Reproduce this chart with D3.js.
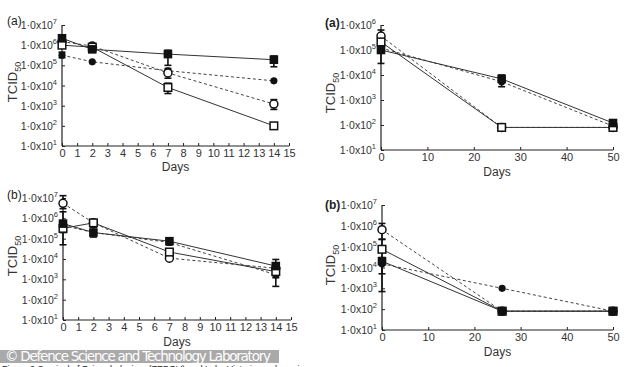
<!DOCTYPE html>
<html><head><meta charset="utf-8">
<script src="https://cdn.jsdelivr.net/npm/d3@7"></script>
<style>
body{margin:0;background:#fff;}
svg{display:block;font-family:"Liberation Sans",Arial,sans-serif;}
</style></head>
<body><svg id="c" width="634" height="367"></svg>
<script>
// ---------- data ----------
const daysShort = [0, 2, 7, 14];
const daysLong = [0, 26, 50];
const xTicksShort = d3.range(0, 16);
const xTicksLong = [0, 10, 20, 30, 40, 50];
const yExpsTo7 = [1, 2, 3, 4, 5, 6, 7];
const yExpsTo6 = [1, 2, 3, 4, 5, 6];

// Panel (a) left, short term
const aL_filledSquare = [2.2e6, 6.2e5, 3.6e5, 1.9e5];
const aL_openSquare   = [1.0e6, 8.0e5, 8.0e3, 1.0e2];
const aL_filledCircle = [3.2e5, 1.5e5, 5.4e4, 1.7e4];
const aL_openCircle   = [1.5e6, 9.0e5, 4.2e4, 1.2e3];
const aL_err_filledSquare = [[1.5e6, 3.2e6], [5e5, 9e5], [1.0e5, 5.6e5], [8.5e4, 2.9e5]];
const aL_err_openSquare   = [null, null, [4e3, 1.3e4], null];
const aL_err_filledCircle = [[2.4e5, 4.5e5], null, null, null];
const aL_err_openCircle   = [null, null, [2.3e4, 7e4], [6.5e2, 2e3]];

// Panel (a) right, long term
const aR_filledSquare = [1.0e5, 7.0e3, 1.2e2];
const aR_openSquare   = [2.1e5, 8.0e1, 8.0e1];
const aR_filledCircle = [1.2e5, 5.4e3, 9.0e1];
const aR_openCircle   = [3.6e5, 8.0e1, 8.0e1];
const aR_err_filledSquare = [[2.9e4, 1.5e5], null, null];
const aR_err_openSquare   = [null, null, null];
const aR_err_filledCircle = [null, [3.4e3, 1.0e4], null];
const aR_err_openCircle   = [[2.5e5, 6.3e5], null, null];

// Panel (b) left, short term
const bL_filledSquare = [5.5e5, 2.0e5, 7.5e4, 4.5e3];
const bL_openSquare   = [3.2e5, 6.0e5, 2.2e4, 2.4e3];
const bL_filledCircle = [4.5e5, 2.0e5, 6.5e4, 1.7e3];
const bL_openCircle   = [5.5e6, 6.0e5, 1.1e4, 3.5e3];
const bL_err_filledSquare = [[2.0e5, 2.1e6], [1.2e5, 3.6e5], [5e4, 1.0e5], [2.0e3, 9.5e3]];
const bL_err_openSquare   = [null, null, null, null];
const bL_err_filledCircle = [[5.0e4, 6.0e5], null, null, [4.5e2, 3.0e3]];
const bL_err_openCircle   = [[3.0e6, 1.3e7], null, null, [1.2e3, 6e3]];

// Panel (b) right, long term
const bR_filledSquare = [2.0e4, 8.0e1, 8.0e1];
const bR_openSquare   = [7.5e4, 8.0e1, 8.0e1];
const bR_filledCircle = [1.5e4, 1.0e3, 8.0e1];
const bR_openCircle   = [6.5e5, 8.0e1, 8.0e1];
const bR_err_filledSquare = [[5.0e3, 3.0e4], null, null];
const bR_err_openSquare   = [[2.7e4, 2.2e5], null, null];
const bR_err_filledCircle = [[7.0e2, 2.6e4], null, null];
const bR_err_openCircle   = [[2.3e5, 1.3e6], null, null];

// ---------- drawing ----------
const svg = d3.select("#c");
const ink = "#222";

function panel(cfg) {
  const g = svg.append("g");
  const x = d3.scaleLinear().domain(cfg.xDomain).range(cfg.xRange);
  const y = d3.scaleLog().domain([1e1, Math.pow(10, d3.max(cfg.yExps))]).range(cfg.yRange);

  // axes (inward ticks)
  const xAxis = d3.axisBottom(x).tickValues(cfg.xTicks).tickSize(-3).tickPadding(3).tickFormat(d3.format("d"));
  const gx = g.append("g").attr("transform", `translate(0,${cfg.yRange[0]})`).call(xAxis);
  gx.select(".domain").attr("d", `M${cfg.xRange[0]},0H${cfg.xRange[1]}`).attr("stroke", ink).attr("stroke-width", 1.2);
  gx.selectAll(".tick line").attr("stroke", ink);
  gx.selectAll(".tick text").attr("font-size", 11).attr("fill", "#333").attr("font-family", "Liberation Sans, Arial, sans-serif");

  const yAxis = d3.axisLeft(y).tickValues(cfg.yExps.map(e => Math.pow(10, e))).tickSize(-3).tickFormat("");
  const gy = g.append("g").attr("transform", `translate(${cfg.xRange[0]},0)`).call(yAxis);
  gy.select(".domain").attr("d", `M0,${cfg.yRange[1]}V${cfg.yRange[0]}`).attr("stroke", ink).attr("stroke-width", 1.2);
  gy.selectAll(".tick line").attr("stroke", ink);
  // y tick labels with superscripts
  cfg.yExps.forEach(e => {
    const t = g.append("text")
      .attr("x", cfg.xRange[0] - 5).attr("y", y(Math.pow(10, e)) + 4)
      .attr("text-anchor", "end").attr("font-size", 10.5).attr("fill", "#333");
    t.append("tspan").text("1·0x10");
    t.append("tspan").attr("dy", -5).attr("font-size", 7.5).text(e);
  });

  // axis titles
  g.append("text").attr("x", (cfg.xRange[0] + cfg.xRange[1]) / 2).attr("y", cfg.daysY)
    .attr("text-anchor", "middle").attr("font-size", 12).attr("fill", "#333").text("Days");
  const tl = g.append("text").attr("transform", `translate(${cfg.tcidX},${cfg.tcidY}) rotate(-90)`)
    .attr("text-anchor", "middle").attr("font-size", 13).attr("fill", "#333");
  tl.append("tspan").text("TCID");
  tl.append("tspan").attr("dy", 4).attr("font-size", 9).text("50");

  g.append("text").attr("x", cfg.letterX).attr("y", cfg.letterY).attr("font-size", 12)
    .attr("font-weight", cfg.bold ? "bold" : "normal").attr("fill", "#222").text(cfg.letter);

  // series lines
  const line = d3.line().x(d => x(d[0])).y(d => y(d[1]));
  cfg.series.forEach(s => {
    const pts = cfg.days.map((d, i) => [d, s.values[i]]);
    g.append("path").attr("d", line(pts)).attr("fill", "none")
      .attr("stroke", s.dashed ? "#444" : "#333").attr("stroke-width", 1)
      .attr("stroke-dasharray", s.dashed ? "3,2.5" : null);
  });
  // error bars
  cfg.series.forEach(s => {
    s.errs.forEach((e, i) => {
      if (!e) return;
      const cx = x(cfg.days[i]);
      const y0 = y(e[0]), y1 = y(e[1]);
      g.append("line").attr("x1", cx).attr("x2", cx).attr("y1", y0).attr("y2", y1).attr("stroke", "#111").attr("stroke-width", 1.6);
      [y0, y1].forEach(yy => g.append("line").attr("x1", cx - 3.5).attr("x2", cx + 3.5).attr("y1", yy).attr("y2", yy).attr("stroke", "#111").attr("stroke-width", 1.6));
    });
  });
  // markers
  cfg.series.forEach(s => {
    cfg.days.forEach((d, i) => {
      const cx = x(d), cy = y(s.values[i]);
      if (s.kind === "filledCircle") {
        g.append("circle").attr("cx", cx).attr("cy", cy).attr("r", 3.6).attr("fill", "#111");
      } else if (s.kind === "openCircle") {
        g.append("circle").attr("cx", cx).attr("cy", cy).attr("r", 4).attr("fill", "#fff").attr("stroke", "#111").attr("stroke-width", 1.5);
      } else if (s.kind === "openSquare") {
        g.append("rect").attr("x", cx - 3.8).attr("y", cy - 3.8).attr("width", 7.6).attr("height", 7.6).attr("fill", "#fff").attr("stroke", "#111").attr("stroke-width", 1.5);
      } else {
        g.append("rect").attr("x", cx - 4.3).attr("y", cy - 4.3).attr("width", 8.6).attr("height", 8.6).attr("fill", "#111");
      }
    });
  });
}

function mkSeries(fs, os, fc, oc, efs, eos, efc, eoc) {
  return [
    {kind: "filledCircle", values: fc, errs: efc, dashed: true},
    {kind: "openCircle", values: oc, errs: eoc, dashed: true},
    {kind: "openSquare", values: os, errs: eos, dashed: false},
    {kind: "filledSquare", values: fs, errs: efs, dashed: false}
  ];
}

panel({days: daysShort, xDomain: [0, 15], xRange: [62, 289], xTicks: xTicksShort, yExps: yExpsTo7, yRange: [146, 25],
  daysY: 171, tcidX: 17, tcidY: 82, letter: "(a)", letterX: 7, letterY: 25, bold: false,
  series: mkSeries(aL_filledSquare, aL_openSquare, aL_filledCircle, aL_openCircle, aL_err_filledSquare, aL_err_openSquare, aL_err_filledCircle, aL_err_openCircle)});
panel({days: daysLong, xDomain: [0, 50], xRange: [381, 613], xTicks: xTicksLong, yExps: yExpsTo6, yRange: [150, 25],
  daysY: 176, tcidX: 335, tcidY: 93, letter: "(a)", letterX: 325, letterY: 27, bold: true,
  series: mkSeries(aR_filledSquare, aR_openSquare, aR_filledCircle, aR_openCircle, aR_err_filledSquare, aR_err_openSquare, aR_err_filledCircle, aR_err_openCircle)});
panel({days: daysShort, xDomain: [0, 15], xRange: [63, 291], xTicks: xTicksShort, yExps: yExpsTo7, yRange: [320, 198],
  daysY: 346, tcidX: 17, tcidY: 256, letter: "(b)", letterX: 7, letterY: 199, bold: false,
  series: mkSeries(bL_filledSquare, bL_openSquare, bL_filledCircle, bL_openCircle, bL_err_filledSquare, bL_err_openSquare, bL_err_filledCircle, bL_err_openCircle)});
panel({days: daysLong, xDomain: [0, 50], xRange: [382, 613], xTicks: xTicksLong, yExps: yExpsTo7, yRange: [330, 205],
  daysY: 356, tcidX: 335, tcidY: 265, letter: "(b)", letterX: 325, letterY: 209, bold: true,
  series: mkSeries(bR_filledSquare, bR_openSquare, bR_filledCircle, bR_openCircle, bR_err_filledSquare, bR_err_openSquare, bR_err_filledCircle, bR_err_openCircle)});

// watermark band and cut-off caption
svg.append("rect").attr("x", 0).attr("y", 350).attr("width", 279).attr("height", 13).attr("fill", "#a9a9a9");
svg.append("text").attr("x", 5).attr("y", 361).attr("font-size", 13.5).attr("fill", "#fff")
  .attr("font-family", "DejaVu Sans, sans-serif").attr("textLength", 266).text("© Defence Science and Technology Laboratory");
svg.append("text").attr("x", 2).attr("y", 372).attr("font-size", 9).attr("fill", "#222")
  .text("Figure 2 Survival of Zaire ebolavirus (ZEBOV) and Lake Victoria marburgvirus");
</script></body></html>
